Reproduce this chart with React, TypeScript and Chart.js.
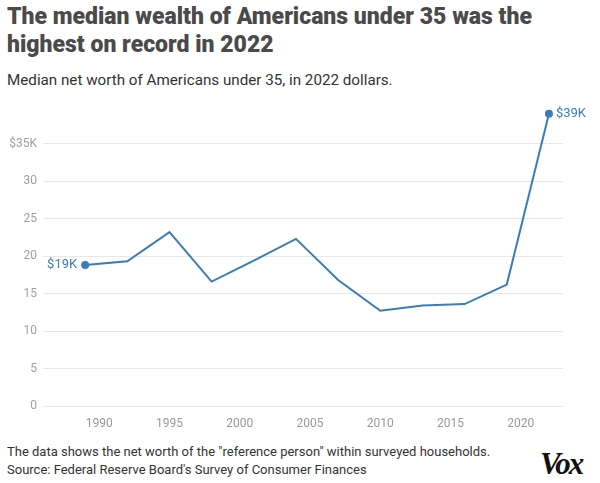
import React, { useEffect, useRef } from "react";
import { Chart, registerables } from "chart.js";

Chart.register(...registerables);

const years = [1989, 1992, 1995, 1998, 2001, 2004, 2007, 2010, 2013, 2016, 2019, 2022];
const medianWealth = [18.8, 19.3, 23.2, 16.6, 19.4, 22.3, 16.8, 12.7, 13.4, 13.6, 16.2, 39.0];
const xTickValues = [1990, 1995, 2000, 2005, 2010, 2015, 2020];
const yTickValues = [0, 5, 10, 15, 20, 25, 30, 35];
const endLabels = ["$19K", "$39K"];

const LINE_COLOR = "#3a7db5";
const FONT = "Roboto, 'Noto Sans', sans-serif";

export default function App() {
  const ref = useRef<HTMLCanvasElement | null>(null);

  useEffect(() => {
    document.body.style.margin = "0";
    if (!ref.current) return;
    const endLabelPlugin = {
      id: "endLabels",
      afterDatasetsDraw(chart: any) {
        const meta = chart.getDatasetMeta(0);
        const ctx = chart.ctx;
        const first = meta.data[0];
        const last = meta.data[meta.data.length - 1];
        ctx.save();
        ctx.fillStyle = LINE_COLOR;
        ctx.font = `13px ${FONT}`;
        ctx.textBaseline = "middle";
        ctx.textAlign = "right";
        ctx.fillText(endLabels[0], first.x - 8, first.y);
        ctx.textAlign = "left";
        ctx.fillText(endLabels[1], last.x + 7, last.y);
        ctx.restore();
      },
    };
    const chart = new Chart(ref.current, {
      type: "line",
      data: {
        datasets: [
          {
            data: years.map((y, i) => ({ x: y, y: medianWealth[i] })),
            borderColor: LINE_COLOR,
            backgroundColor: LINE_COLOR,
            borderWidth: 2,
            pointRadius: (c: any) =>
              c.dataIndex === 0 || c.dataIndex === years.length - 1 ? 3 : 0,
            pointHoverRadius: 0,
            tension: 0,
            clip: false as any,
          },
        ],
      },
      options: {
        animation: false,
        responsive: false,
        maintainAspectRatio: false,
        layout: { padding: { top: 0, right: 37, left: 0, bottom: 0 } },
        plugins: { legend: { display: false }, tooltip: { enabled: false } },
        scales: {
          x: {
            type: "linear",
            min: 1986,
            max: 2023,
            grid: { display: false },
            border: { display: false },
            afterBuildTicks: (s: any) => {
              s.ticks = xTickValues.map((v) => ({ value: v }));
            },
            afterFit: (s: any) => {
              s.height = 25;
            },
            ticks: {
              color: "#999",
              font: { family: FONT, size: 12 },
              padding: 3,
              maxRotation: 0,
              callback: (v: any) => String(v),
            },
          },
          y: {
            min: 0,
            max: 40,
            grid: { color: "#e8e8e8", lineWidth: 1, drawTicks: false },
            border: { display: false },
            afterBuildTicks: (s: any) => {
              s.ticks = yTickValues.map((v) => ({ value: v }));
            },
            afterFit: (s: any) => {
              s.width = 43;
            },
            ticks: {
              color: "#a0a0a0",
              font: { family: FONT, size: 12 },
              padding: 6,
              callback: (v: any) => (v === 35 ? "$35K" : String(v)),
            },
          },
        },
      },
      plugins: [endLabelPlugin],
    });
    return () => chart.destroy();
  }, []);

  return (
    <div style={{ position: "relative", width: 600, height: 483, background: "#fff", fontFamily: FONT }}>
      <div
        style={{
          position: "absolute",
          left: 7,
          top: 3,
          width: 593,
          fontSize: 23,
          lineHeight: "28px",
          fontWeight: 900,
          color: "#4a4a4a",
          letterSpacing: 0,
          whiteSpace: "nowrap",
        }}
      >
        The median wealth of Americans under 35 was the
        <br />
        highest on record in 2022
      </div>
      <div style={{ position: "absolute", left: 7, top: 71, fontSize: 15.2, color: "#333" }}>
        Median net worth of Americans under 35, in 2022 dollars.
      </div>
      <canvas
        ref={ref}
        width={600}
        height={338}
        style={{ position: "absolute", left: 0, top: 93, width: 600, height: 338 }}
      />
      <div style={{ position: "absolute", left: 7, top: 443, fontSize: 13, lineHeight: "18px", color: "#333" }}>
        The data shows the net worth of the "reference person" within surveyed households.
        <br />
        Source: Federal Reserve Board's Survey of Consumer Finances
      </div>
      <div
        style={{
          position: "absolute",
          left: 540,
          top: 446,
          fontFamily: "'Liberation Serif', serif",
          fontWeight: 700,
          fontStyle: "italic",
          fontSize: 31,
          letterSpacing: -2,
          color: "#111",
        }}
      >
        Vox
      </div>
    </div>
  );
}
